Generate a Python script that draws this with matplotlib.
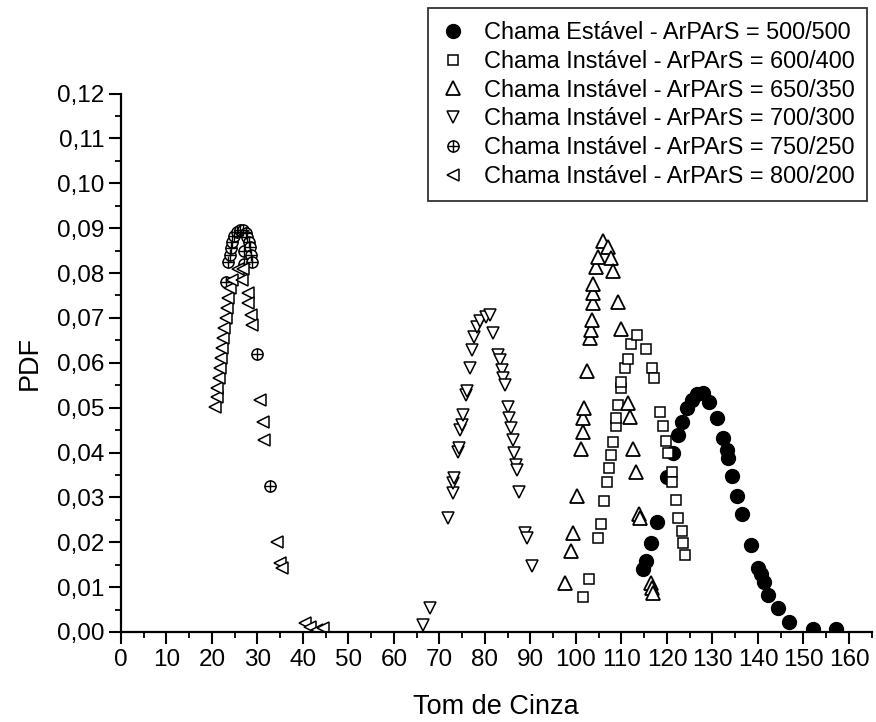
import matplotlib
matplotlib.use('Agg')
import matplotlib.pyplot as plt
from matplotlib.ticker import MultipleLocator, FuncFormatter
from matplotlib.legend_handler import HandlerTuple

plt.rcParams['font.family'] = ['Liberation Sans', 'DejaVu Sans']

# Chama Estável - ArPArS = 500/500
x_500 = [114.8, 115.5, 116.6, 117.9, 119.9, 121.4, 122.5, 123.2, 124.3, 125.4,
         126.7, 128.0, 129.3, 130.9, 132.4, 133.1, 133.5, 134.4, 135.3, 136.4,
         138.5, 139.9, 140.6, 141.3, 142.3, 144.5, 146.9, 152.0, 157.1]
y_500 = [0.0140, 0.0159, 0.0198, 0.0246, 0.0345, 0.0398, 0.0439, 0.0469, 0.0499, 0.0517,
         0.0530, 0.0532, 0.0513, 0.0476, 0.0432, 0.0406, 0.0387, 0.0348, 0.0303, 0.0263,
         0.0194, 0.0142, 0.0129, 0.0112, 0.0082, 0.0053, 0.0023, 0.0006, 0.0006]

# Chama Instável - ArPArS = 600/400
x_600 = [101.6, 102.9, 104.9, 105.5, 106.2, 106.9, 107.3, 107.6, 108.1, 108.8,
         108.8, 109.3, 109.9, 110.0, 110.8, 111.5, 112.0, 113.5, 115.4, 116.8,
         117.1, 118.5, 119.2, 119.8, 120.3, 121.0, 121.2, 121.9, 122.5, 123.2,
         123.6, 124.0]
y_600 = [0.0079, 0.0117, 0.0210, 0.0240, 0.0292, 0.0335, 0.0365, 0.0394, 0.0424, 0.0458,
         0.0476, 0.0506, 0.0543, 0.0558, 0.0588, 0.0608, 0.0641, 0.0662, 0.0631, 0.0588,
         0.0567, 0.0491, 0.0459, 0.0426, 0.0398, 0.0357, 0.0335, 0.0294, 0.0253, 0.0224,
         0.0198, 0.0172]

# Chama Instável - ArPArS = 650/350
x_650 = [97.6, 98.8, 99.3, 100.3, 101.1, 101.5, 101.6, 101.8, 102.4, 103.1,
         103.3, 103.5, 103.7, 103.7, 103.8, 104.5, 104.9, 106.0, 107.1, 107.8,
         108.2, 109.3, 109.9, 111.5, 111.9, 112.6, 113.1, 113.9, 114.0, 116.5,
         116.7, 116.9]
y_650 = [0.0110, 0.0181, 0.0221, 0.0303, 0.0407, 0.0446, 0.0476, 0.0499, 0.0582, 0.0655,
         0.0673, 0.0695, 0.0733, 0.0755, 0.0775, 0.0814, 0.0836, 0.0871, 0.0859, 0.0834,
         0.0805, 0.0735, 0.0675, 0.0510, 0.0480, 0.0407, 0.0357, 0.0263, 0.0255, 0.0110,
         0.0098, 0.0086]

# Chama Instável - ArPArS = 700/300
x_700 = [66.4, 67.9, 71.9, 72.9, 73.0, 73.2, 74.1, 74.3, 74.6, 74.9,
         75.2, 75.8, 76.0, 76.7, 77.1, 77.6, 78.2, 78.9, 80.2, 81.1,
         81.8, 82.9, 83.3, 83.7, 84.0, 84.4, 85.0, 85.3, 85.7, 86.1,
         86.4, 86.8, 87.0, 87.5, 88.8, 89.2, 90.3]
y_700 = [0.0016, 0.0053, 0.0253, 0.0310, 0.0331, 0.0343, 0.0402, 0.0409, 0.0450, 0.0461,
         0.0484, 0.0528, 0.0536, 0.0588, 0.0628, 0.0658, 0.0680, 0.0692, 0.0703, 0.0706,
         0.0666, 0.0617, 0.0606, 0.0584, 0.0565, 0.0550, 0.0502, 0.0476, 0.0454, 0.0428,
         0.0398, 0.0372, 0.0361, 0.0313, 0.0220, 0.0209, 0.0147]

# Chama Instável - ArPArS = 750/250
x_750 = [23.1, 23.6, 24.0, 24.2, 24.5, 24.9, 25.4, 26.2, 26.9, 27.0,
         27.0, 27.4, 27.8, 28.1, 28.4, 28.6, 28.7, 29.8, 32.7]
y_750 = [0.0780, 0.0825, 0.0840, 0.0855, 0.0870, 0.0883, 0.0892, 0.0895, 0.0895, 0.0850,
         0.0820, 0.0890, 0.0880, 0.0870, 0.0857, 0.0840, 0.0825, 0.0620, 0.0325]

# Chama Instável - ArPArS = 800/200
x_800 = [20.7, 21.0, 21.2, 21.5, 21.8, 22.0, 22.3, 22.5, 22.7, 23.0,
         23.4, 23.6, 24.0, 24.3, 25.8, 26.5, 26.9, 28.0, 28.0, 28.6,
         28.7, 30.6, 31.2, 31.4, 34.3, 34.9, 35.3, 40.5, 41.5, 43.0,
         44.5]
y_800 = [0.0502, 0.0524, 0.0543, 0.0566, 0.0588, 0.0610, 0.0633, 0.0655, 0.0677, 0.0699,
         0.0721, 0.0744, 0.0766, 0.0784, 0.0810, 0.0784, 0.0810, 0.0755, 0.0733, 0.0706,
         0.0684, 0.0517, 0.0469, 0.0428, 0.0201, 0.0153, 0.0142, 0.0020, 0.0010, 0.0005,
         0.0008]

labels = ['Chama Estável - ArPArS = 500/500',
          'Chama Instável - ArPArS = 600/400',
          'Chama Instável - ArPArS = 650/350',
          'Chama Instável - ArPArS = 700/300',
          'Chama Instável - ArPArS = 750/250',
          'Chama Instável - ArPArS = 800/200']

fig = plt.figure(figsize=(8.76, 7.22), dpi=100)
ax = fig.add_axes([0.1381, 0.1247, 0.8570, 0.7457])

common = dict(linestyle='none', color='black', mec='black')
h500, = ax.plot(x_500, y_500, marker='o', ms=10, mfc='black', **common)
h600, = ax.plot(x_600, y_600, marker='s', ms=7.5, mfc='white', mew=1.1, **common)
h650, = ax.plot(x_650, y_650, marker='^', ms=9.5, mfc='white', mew=1.3, **common)
h700, = ax.plot(x_700, y_700, marker='v', ms=9, mfc='white', mew=1.1, **common)
h750a, = ax.plot(x_750, y_750, marker='o', ms=8, mfc='white', mew=1.1, **common)
h750b, = ax.plot(x_750, y_750, marker='+', ms=8, mew=1.0, **common)
h800, = ax.plot(x_800, y_800, marker='<', ms=9, mfc='white', mew=1.1, **common)

ax.set_xlim(0, 165)
ax.set_ylim(0, 0.12)

ax.xaxis.set_major_locator(MultipleLocator(10))
ax.xaxis.set_minor_locator(MultipleLocator(5))
ax.yaxis.set_major_locator(MultipleLocator(0.01))
ax.yaxis.set_minor_locator(MultipleLocator(0.005))
ax.yaxis.set_major_formatter(FuncFormatter(lambda v, p: f'{v:.2f}'.replace('.', ',')))

for side in ['top', 'right']:
    ax.spines[side].set_visible(False)
for side in ['left', 'bottom']:
    ax.spines[side].set_linewidth(1.6)

ax.tick_params(which='major', direction='out', length=8.5, width=1.5, labelsize=17.5)
ax.tick_params(which='minor', direction='out', length=4.5, width=1.3)

ax.set_xlabel('Tom de Cinza', fontsize=19.5, labelpad=17)
ax.set_ylabel('PDF', fontsize=19.5, labelpad=10)

# circle + plus overlaid for the 750/250 entry
leg = fig.legend([h500, h600, h650, h700, (h750a, h750b), h800], labels,
                 handler_map={tuple: HandlerTuple(ndivide=1)},
                 loc='upper right', bbox_to_anchor=(0.990, 0.989),
                 bbox_transform=fig.transFigure, fontsize=16.9,
                 frameon=True, fancybox=False, edgecolor='black',
                 handlelength=1.0, handletextpad=0.8, borderpad=0.55,
                 labelspacing=0.25, borderaxespad=0)
leg.get_frame().set_linewidth(1.3)

fig.savefig('out.png', dpi=100, facecolor='white')
